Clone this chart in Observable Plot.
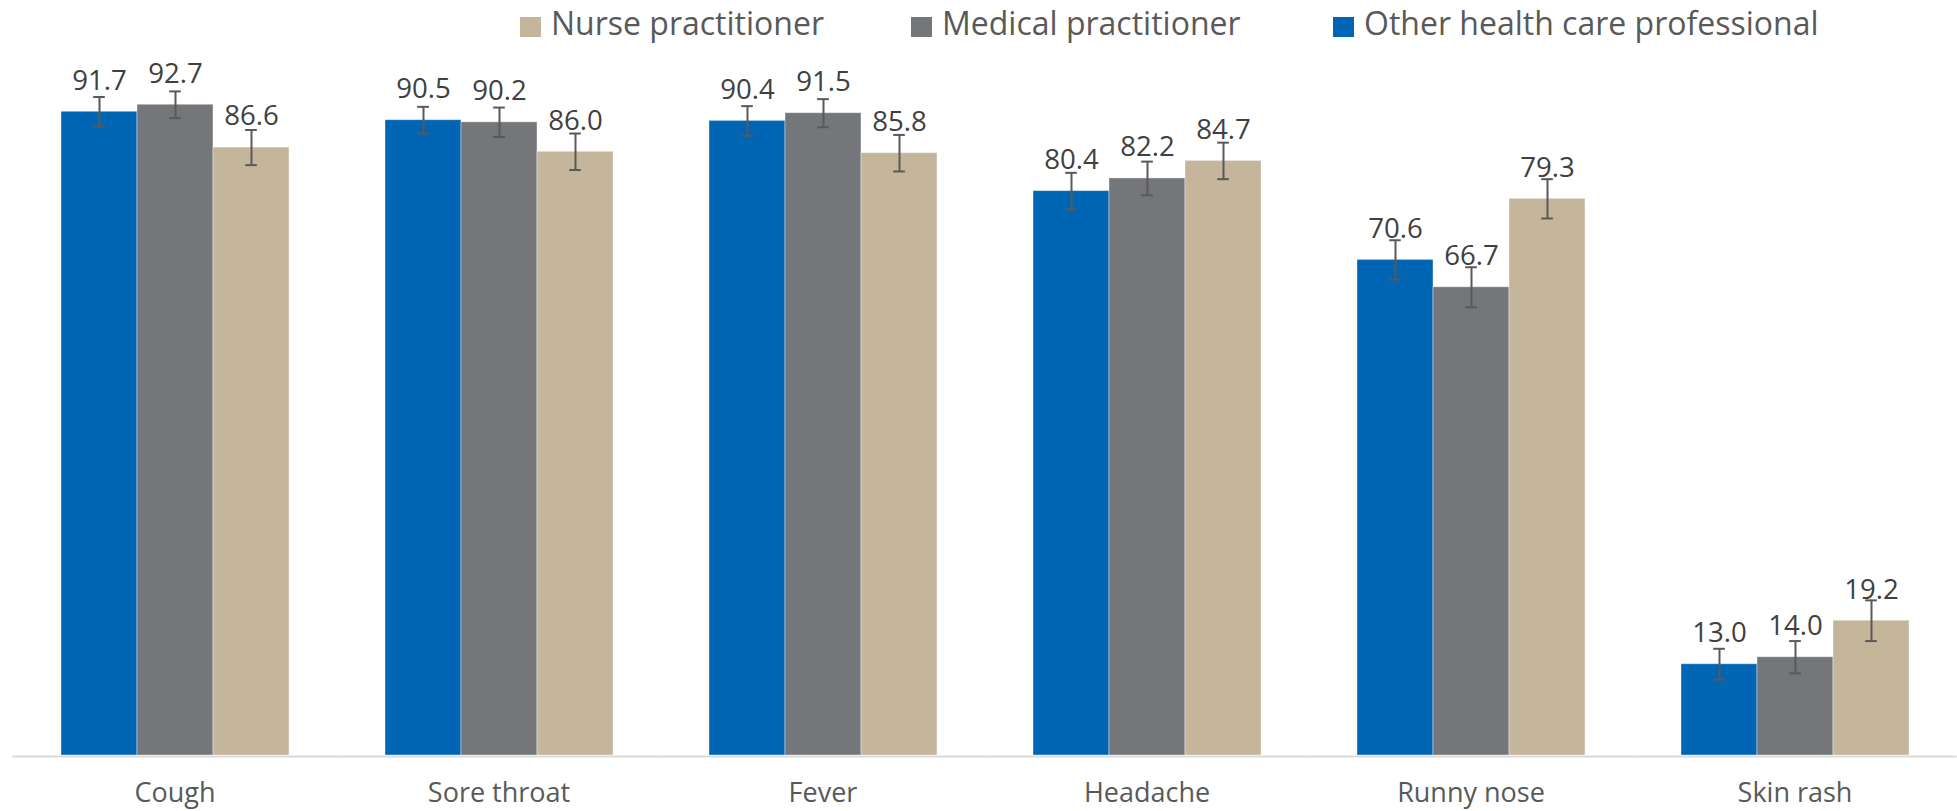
<!DOCTYPE html>
<html>
<head>
<meta charset="utf-8">
<script src="https://cdn.jsdelivr.net/npm/d3@7"></script>
<script src="https://cdn.jsdelivr.net/npm/@observablehq/plot@0.6"></script>
<style>
  html, body { margin: 0; padding: 0; background: #fff; }
  #wrap { position: relative; width: 1957px; height: 811px; overflow: hidden; font-family: "Open Sans", sans-serif; }
  #legend { position: absolute; left: 0; top: 0; width: 1957px; height: 50px; }
  .sw { position: absolute; top: 17px; width: 21px; height: 20px; }
  .lt { position: absolute; top: 1px; font-size: 32px; line-height: normal; color: #595959; white-space: nowrap; }
  #chart { position: absolute; left: 0; top: 0; }
</style>
</head>
<body>
<div id="wrap">
  <div id="chart"></div>
  <div id="legend"></div>
</div>
<script>
const categories = ["Cough", "Sore throat", "Fever", "Headache", "Runny nose", "Skin rash"];
const series = ["Other health care professional", "Medical practitioner", "Nurse practitioner"];
const colors = ["#0065B3", "#75767A", "#C4B59B"];
const otherValues   = [91.7, 90.5, 90.4, 80.4, 70.6, 13.0];
const medicalValues = [92.7, 90.2, 91.5, 82.2, 66.7, 14.0];
const nurseValues   = [86.6, 86.0, 85.8, 84.7, 79.3, 19.2];
const otherErr   = [2.1, 1.9, 2.1, 2.6, 2.8, 2.2];
const medicalErr = [1.9, 2.1, 2.0, 2.4, 2.85, 2.3];
const nurseErr   = [2.5, 2.6, 2.6, 2.6, 2.8, 2.9];
const legendOrder = ["Nurse practitioner", "Medical practitioner", "Other health care professional"];

const valueSets = [otherValues, medicalValues, nurseValues];
const errSets = [otherErr, medicalErr, nurseErr];
const data = [];
categories.forEach((c, i) => {
  series.forEach((s, j) => {
    data.push({category: c, series: s, value: valueSets[j][i], err: errSets[j][i]});
  });
});

const W = 1957, H = 811;
const mL = 12, mR = 0;
const pIn = 0.2936, pOut = 0.1468;
const step = (W - mL - mR) / categories.length;
const outerGap = step * pOut;
const capInset = ((step * (1 - pIn)) / 3 - 12) / 2;

const chart = Plot.plot({
  width: W,
  height: H,
  marginLeft: mL,
  marginRight: mR,
  marginTop: 53,
  marginBottom: 56,
  style: {fontFamily: "Open Sans, sans-serif", fontSize: "27px", color: "#595959", background: "transparent"},
  fx: {domain: categories, paddingInner: pIn, paddingOuter: pOut, label: null, axis: "bottom", tickSize: 0, tickPadding: 27},
  x: {domain: series, padding: 0, axis: null},
  y: {domain: [0, 100], axis: null},
  color: {domain: series, range: colors},
  marks: [
    Plot.ruleY([0], {stroke: "#D9D9D9", strokeWidth: 2, insetLeft: -outerGap, insetRight: -outerGap, dy: 1}),
    Plot.barY(data, {fx: "category", x: "series", y: "value", fill: "series", stroke: "#fff", strokeOpacity: 0.4, strokeWidth: 1}),
    Plot.ruleX(data, {fx: "category", x: "series", y1: d => d.value - d.err, y2: d => d.value + d.err, stroke: "#595959", strokeWidth: 2}),
    Plot.tickY(data, {fx: "category", x: "series", y: d => d.value - d.err, stroke: "#595959", strokeWidth: 2, insetLeft: capInset, insetRight: capInset}),
    Plot.tickY(data, {fx: "category", x: "series", y: d => d.value + d.err, stroke: "#595959", strokeWidth: 2, insetLeft: capInset, insetRight: capInset}),
    Plot.text(data, {fx: "category", x: "series", y: "value", text: d => d.value.toFixed(1), dy: -31, fontSize: 27.6, fill: "#404040"})
  ]
});
document.getElementById("chart").appendChild(chart);

// legend
const legend = document.getElementById("legend");
const legendLeft = [520, 911, 1333];
legendOrder.forEach((name, k) => {
  const sw = document.createElement("div");
  sw.className = "sw";
  sw.style.left = legendLeft[k] + "px";
  sw.style.background = colors[series.indexOf(name)];
  legend.appendChild(sw);
  const t = document.createElement("div");
  t.className = "lt";
  t.style.left = (legendLeft[k] + 31) + "px";
  t.textContent = name;
  legend.appendChild(t);
});
</script>
</body>
</html>
